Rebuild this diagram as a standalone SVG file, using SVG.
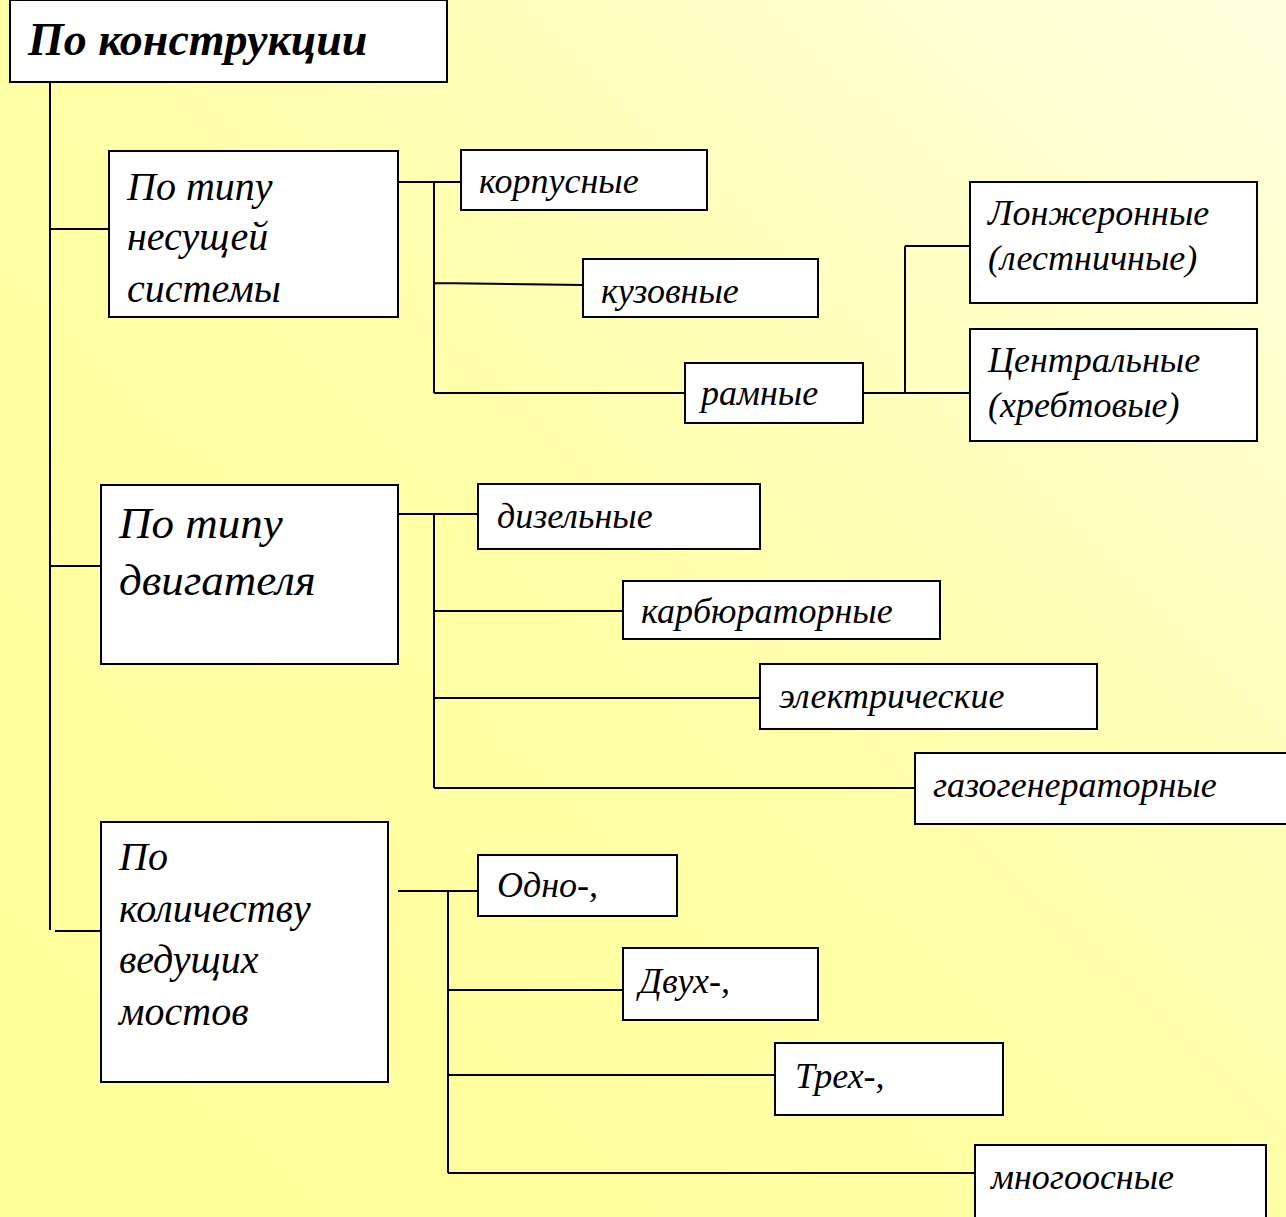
<svg xmlns="http://www.w3.org/2000/svg" width="1286" height="1217" viewBox="0 0 1286 1217">
<defs>
<linearGradient id="bg" x1="0" y1="1" x2="1" y2="0">
<stop offset="0" stop-color="#FFFF99"/>
<stop offset="0.5" stop-color="#FFFFA8"/>
<stop offset="1" stop-color="#FFFFE0"/>
</linearGradient>
</defs>
<rect x="0" y="0" width="1286" height="1217" fill="url(#bg)"/>
<g id="connectors" stroke="#000" stroke-width="2" fill="none">
<path d="M50 83 V930 M50 229 H109 M50 566 H101 M55 931 H101"/>
<path d="M398 182 H461 M434 182 V393 M434 283 L583 285 M434 393 H685"/>
<path d="M863 393 H970 M905 246 V393 M905 246 H970"/>
<path d="M398 514 H478 M434 514 V788 M434 611 H623 M434 698 H760 M434 788 H915"/>
<path d="M398 891 H478 M448 891 V1173 M448 990 H623 M448 1075 H775 M448 1173 H975"/>
</g>
<g id="nodes" font-family="Liberation Serif, Times New Roman, serif" font-style="italic" font-size="36" fill="#000">
<g id="n-root"><rect x="10" y="0" width="437" height="82" fill="#FFF" stroke="#000" stroke-width="2"/><text font-family="Liberation Serif" font-weight="bold" font-size="46" x="28" y="55">По конструкции</text></g>
<g id="n-nes"><rect x="109" y="151" width="289" height="166" fill="#FFF" stroke="#000" stroke-width="2"/><text font-family="Liberation Serif" font-size="40" x="127" y="200">По типу</text><text font-family="Liberation Serif" font-size="40" x="127" y="250">несущей</text><text font-family="Liberation Serif" font-size="40" x="127" y="302">системы</text></g>
<g id="n-korp"><rect x="461" y="150" width="246" height="60" fill="#FFF" stroke="#000" stroke-width="2"/><text font-family="Liberation Serif" x="479" y="193">корпусные</text></g>
<g id="n-kuz"><rect x="583" y="259" width="235" height="58" fill="#FFF" stroke="#000" stroke-width="2"/><text font-family="Liberation Serif" x="601" y="303">кузовные</text></g>
<g id="n-ram"><rect x="685" y="363" width="178" height="60" fill="#FFF" stroke="#000" stroke-width="2"/><text font-family="Liberation Serif" x="701" y="405">рамные</text></g>
<g id="n-lonzh"><rect x="970" y="182" width="287" height="121" fill="#FFF" stroke="#000" stroke-width="2"/><text font-family="Liberation Serif" x="988" y="225">Лонжеронные</text><text font-family="Liberation Serif" x="988" y="270">(лестничные)</text></g>
<g id="n-centr"><rect x="970" y="329" width="287" height="112" fill="#FFF" stroke="#000" stroke-width="2"/><text font-family="Liberation Serif" x="988" y="372">Центральные</text><text font-family="Liberation Serif" x="988" y="417">(хребтовые)</text></g>
<g id="n-dvig"><rect x="101" y="485" width="297" height="179" fill="#FFF" stroke="#000" stroke-width="2"/><text font-family="Liberation Serif" font-size="45" x="119" y="538">По типу</text><text font-family="Liberation Serif" font-size="45" x="119" y="595">двигателя</text></g>
<g id="n-diz"><rect x="478" y="484" width="282" height="65" fill="#FFF" stroke="#000" stroke-width="2"/><text font-family="Liberation Serif" x="497" y="528">дизельные</text></g>
<g id="n-karb"><rect x="623" y="581" width="317" height="58" fill="#FFF" stroke="#000" stroke-width="2"/><text font-family="Liberation Serif" x="641" y="623">карбюраторные</text></g>
<g id="n-el"><rect x="760" y="664" width="337" height="65" fill="#FFF" stroke="#000" stroke-width="2"/><text font-family="Liberation Serif" x="779" y="708">электрические</text></g>
<g id="n-gaz"><rect x="915" y="753" width="375" height="71" fill="#FFF" stroke="#000" stroke-width="2"/><text font-family="Liberation Serif" x="933" y="797">газогенераторные</text></g>
<g id="n-most"><rect x="101" y="822" width="287" height="260" fill="#FFF" stroke="#000" stroke-width="2"/><text font-family="Liberation Serif" font-size="40" x="119" y="870">По</text><text font-family="Liberation Serif" font-size="40" x="119" y="922">количеству</text><text font-family="Liberation Serif" font-size="40" x="119" y="973">ведущих</text><text font-family="Liberation Serif" font-size="40" x="119" y="1025">мостов</text></g>
<g id="n-odno"><rect x="478" y="855" width="199" height="61" fill="#FFF" stroke="#000" stroke-width="2"/><text font-family="Liberation Serif" x="497" y="897">Одно-,</text></g>
<g id="n-dvuh"><rect x="623" y="948" width="195" height="72" fill="#FFF" stroke="#000" stroke-width="2"/><text font-family="Liberation Serif" x="639" y="993">Двух-,</text></g>
<g id="n-treh"><rect x="775" y="1043" width="228" height="72" fill="#FFF" stroke="#000" stroke-width="2"/><text font-family="Liberation Serif" x="795" y="1088">Трех-,</text></g>
<g id="n-mnogo"><rect x="975" y="1145" width="291" height="80" fill="#FFF" stroke="#000" stroke-width="2"/><text font-family="Liberation Serif" x="991" y="1189">многоосные</text></g>
</g>
</svg>
